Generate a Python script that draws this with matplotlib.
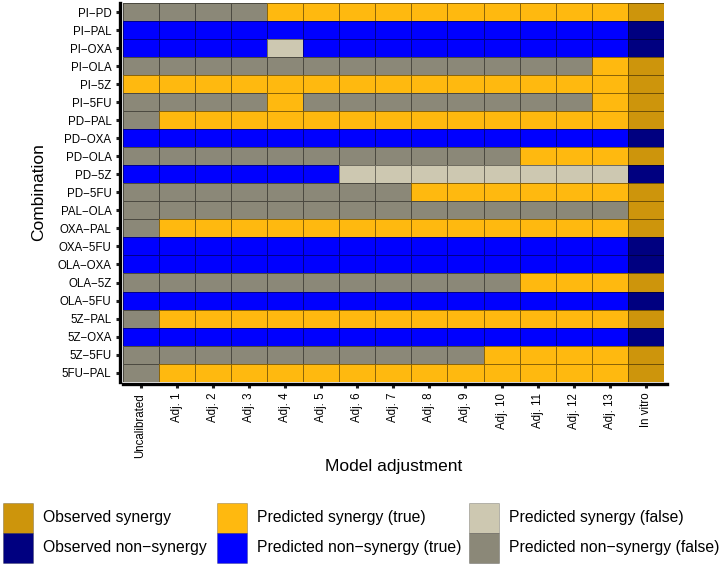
import numpy as np
import matplotlib
matplotlib.use("Agg")
import matplotlib.pyplot as plt
from matplotlib.colors import ListedColormap
from matplotlib.patches import Rectangle

plt.rcParams['font.family'] = ['Liberation Sans', 'DejaVu Sans']

combinations = ["PI−PD", "PI−PAL", "PI−OXA", "PI−OLA", "PI−5Z", "PI−5FU", "PD−PAL",
                "PD−OXA", "PD−OLA", "PD−5Z", "PD−5FU", "PAL−OLA", "OXA−PAL", "OXA−5FU",
                "OLA−OXA", "OLA−5Z", "OLA−5FU", "5Z−PAL", "5Z−OXA", "5Z−5FU", "5FU−PAL"]

adjustments = ["Uncalibrated"] + ["Adj. %d" % i for i in range(1, 14)] + ["In vitro"]

# in vitro result: 1 = synergy, 0 = non-synergy
observed = [1, 0, 0, 1, 1, 1, 1, 0, 1, 0, 1, 1, 1, 0, 0, 1, 0, 1, 0, 1, 1]

# model predictions (Uncalibrated, Adj. 1 .. Adj. 13): 1 = synergy
predicted = [
    "00001111111111",  # PI-PD
    "00000000000000",  # PI-PAL
    "00001000000000",  # PI-OXA
    "00000000000001",  # PI-OLA
    "11111111111111",  # PI-5Z
    "00001000000001",  # PI-5FU
    "01111111111111",  # PD-PAL
    "00000000000000",  # PD-OXA
    "00000000000111",  # PD-OLA
    "00000011111111",  # PD-5Z
    "00000000111111",  # PD-5FU
    "00000000000000",  # PAL-OLA
    "01111111111111",  # OXA-PAL
    "00000000000000",  # OXA-5FU
    "00000000000000",  # OLA-OXA
    "00000000000111",  # OLA-5Z
    "00000000000000",  # OLA-5FU
    "01111111111111",  # 5Z-PAL
    "00000000000000",  # 5Z-OXA
    "00000000001111",  # 5Z-5FU
    "01111111111111",  # 5FU-PAL
]

legend_labels = ["Observed synergy", "Observed non−synergy",
                 "Predicted synergy (true)", "Predicted non−synergy (true)",
                 "Predicted synergy (false)", "Predicted non−synergy (false)"]
colors = ["#CD950C", "#000080", "#FFB90F", "#0000FF", "#CDC8B1", "#8B8878"]

# build category matrix
n_rows = len(combinations)
n_cols = len(adjustments)
codes = np.zeros((n_rows, n_cols), dtype=int)
for i in range(n_rows):
    obs = observed[i]
    for j, p in enumerate(predicted[i]):
        p = int(p)
        if p == 1 and obs == 1:
            codes[i, j] = 2
        elif p == 0 and obs == 0:
            codes[i, j] = 3
        elif p == 1 and obs == 0:
            codes[i, j] = 4
        else:
            codes[i, j] = 5
    codes[i, -1] = 0 if obs == 1 else 1

fig = plt.figure(figsize=(7.26, 5.70), dpi=100)
W, H = 726, 570
ax = fig.add_axes([122.5 / W, 1 - 381.7 / H, (664 - 122.5) / W, (381.7 - 3) / H])

# spines first: moving them resets the ticks
for s in ["top", "right"]:
    ax.spines[s].set_visible(False)
for s in ["left", "bottom"]:
    ax.spines[s].set_linewidth(2.4)
    ax.spines[s].set_position(("outward", 2))

cmap = ListedColormap(colors)
ax.pcolormesh(np.arange(n_cols + 1) - 0.5, np.arange(n_rows + 1) - 0.5, codes,
              cmap=cmap, vmin=-0.5, vmax=5.5, edgecolors=(0, 0, 0, 0.45), linewidth=0.6)
ax.set_xlim(-0.5, n_cols - 0.5)
ax.set_ylim(n_rows - 0.5, -0.5)
ax.spines["bottom"].set_bounds(-0.5, n_cols - 0.42)

ax.set_xticks(range(n_cols))
ax.set_xticklabels(adjustments, rotation=90, fontsize=8.3)
ax.set_yticks(range(n_rows))
ax.set_yticklabels(combinations, fontsize=8.3)
ax.tick_params(length=3, width=2.2, color="#222222", pad=3)

ax.set_xlabel("Model adjustment", fontsize=12.5, labelpad=1)
ax.set_ylabel("Combination", fontsize=12.5, labelpad=8)

# legend drawn as figure patches
col_x = [3.3, 217, 469]
sw_w = 30
top_y = 502.7
sw_h = 30
for k, (lab, c) in enumerate(zip(legend_labels, colors)):
    col = k // 2
    row = k % 2
    x0 = col_x[col]
    y0 = top_y + row * sw_h
    fig.add_artist(Rectangle((x0 / W, 1 - (y0 + sw_h) / H), sw_w / W, sw_h / H,
                             transform=fig.transFigure, facecolor=c,
                             edgecolor=(0, 0, 0, 0.25), linewidth=0.6))
    fig.text((x0 + sw_w + 10) / W, 1 - (y0 + sw_h / 2) / H, lab,
             fontsize=11.3, va="center", ha="left")

fig.savefig("out.png", dpi=100)
